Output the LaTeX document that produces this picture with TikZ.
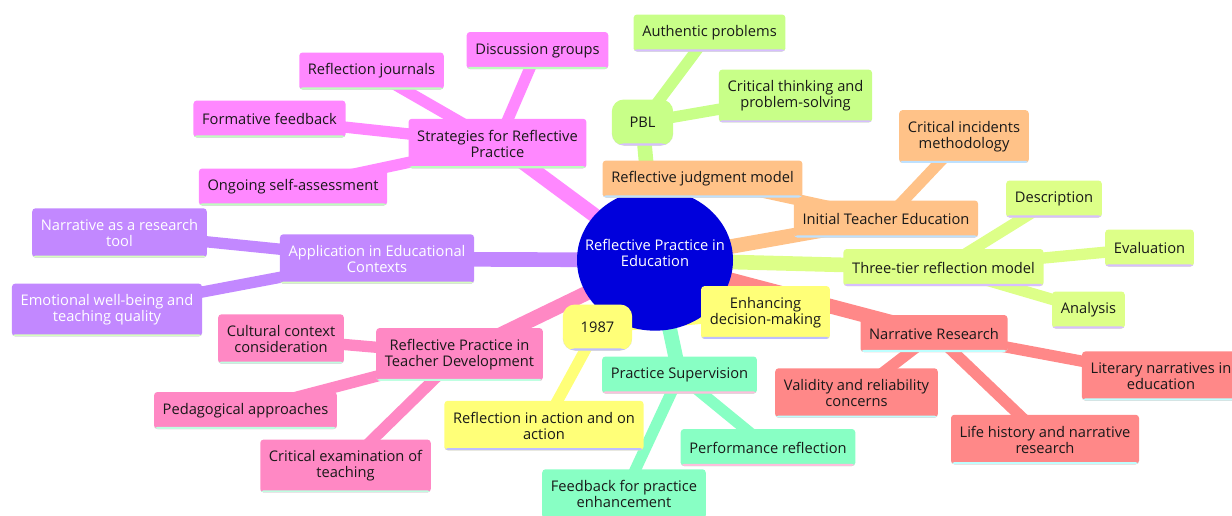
\documentclass[tikz,border=0pt]{standalone}
\usepackage{fontspec}
\setmainfont{Open Sans}
\usetikzlibrary{backgrounds,shapes.geometric}

\definecolor{rootblue}{RGB}{0,0,220}
\definecolor{textdark}{RGB}{25,25,25}
\definecolor{magsec}{RGB}{255,136,255}
\definecolor{purpsec}{RGB}{194,136,255}
\definecolor{pinksec}{RGB}{255,136,196}
\definecolor{yelsec}{RGB}{255,255,120}
\definecolor{tealsec}{RGB}{136,255,196}
\definecolor{redsec}{RGB}{255,136,136}
\definecolor{orgsec}{RGB}{255,194,136}
\definecolor{grnsec}{RGB}{200,255,136}
\definecolor{limesec}{RGB}{221,255,136}
\definecolor{magline}{RGB}{190,255,190}
\definecolor{purpline}{RGB}{215,255,190}
\definecolor{pinkline}{RGB}{190,255,225}
\definecolor{yelline}{RGB}{190,190,255}
\definecolor{tealline}{RGB}{255,190,220}
\definecolor{redline}{RGB}{190,255,255}
\definecolor{orgline}{RGB}{190,225,255}
\definecolor{grnline}{RGB}{215,190,255}

\tikzset{idea/.style 2 args={rectangle,rounded corners=2.5pt,fill=#1,text=textdark,
            inner xsep=6.5pt,inner ysep=8.3pt,minimum height=27.75pt,align=center,
            path picture={\fill[#2] ([yshift=1.6pt]path picture bounding box.south west)
              rectangle (path picture bounding box.south east);}},
         root node/.style={ellipse,fill=rootblue,inner sep=0pt,
            minimum width=117pt,minimum height=106pt},
         root text/.style={text=white,align=center,yshift=5.5pt},
         mag node/.style={idea={magsec}{magline}},
         purp node/.style={idea={purpsec}{purpline},text=white},
         pink node/.style={idea={pinksec}{pinkline}},
         yel node/.style={idea={yelsec}{yelline}},
         teal node/.style={idea={tealsec}{tealline}},
         red node/.style={idea={redsec}{redline}},
         org node/.style={idea={orgsec}{orgline}},
         grn node/.style={idea={grnsec}{grnline}},
         lime node/.style={idea={limesec}{grnline}},
         bubble/.style={rounded corners=9pt,minimum height=34.5pt},
         root edge/.style={line width=11pt},
         sub edge/.style={line width=8.5pt},
            }

\begin{document}
\begin{tikzpicture}[x=0.75pt,y=-0.75pt,font=\fontsize{11}{12}\selectfont]
    \useasboundingbox (0,0) rectangle (1232,515);
    \clip (0,0) rectangle (1232,515);

    \node[root node,label={[root text]center:Reflective Practice in\\Education}] (root) at (655,260) {};

    % strategies
    \node[mag node] (strat) at (497.5,143.5) {Strategies for Reflective\\Practice};
    \node[mag node] (discuss) at (537.5,50.5) {Discussion groups};
    \node[mag node] (journal) at (371.5,71) {Reflection journals};
    \node[mag node] (formative) at (269.5,119) {Formative feedback};
    \node[mag node] (ongoing) at (293,187) {Ongoing self-assessment};

    % application
    \node[purp node] (apply) at (377,259) {Application in Educational\\Contexts};
    \node[purp node] (narrtool) at (119.5,233) {Narrative as a research\\tool};
    \node[purp node] (wellbeing) at (107,310) {Emotional well-being and\\teaching quality};

    % teacher development
    \node[pink node] (teacher) at (459.5,354.5) {Reflective Practice in\\Teacher Development};
    \node[pink node] (culture) at (281,339) {Cultural context\\consideration};
    \node[pink node] (pedagogy) at (245.5,410.5) {Pedagogical approaches};
    \node[pink node] (critexam) at (345.5,466) {Critical examination of\\teaching};

    % 1987
    \node[yel node,bubble,minimum width=52pt] (year) at (597.5,327.5) {1987};
    \node[yel node] (inaction) at (544,425.5) {Reflection in action and on\\action};
    \node[yel node] (decision) at (765.5,312.5) {Enhancing\\decision-making};

    % supervision
    \node[teal node] (superv) at (679.5,375) {Practice Supervision};
    \node[teal node] (perform) at (768,447.5) {Performance reflection};
    \node[teal node] (feedback) at (624,494) {Feedback for practice\\enhancement};

    % narrative research
    \node[red node] (narr) at (934,333.5) {Narrative Research};
    \node[red node] (validity) at (856.5,393) {Validity and reliability\\concerns};
    \node[red node] (lifehist) at (1045,439.5) {Life history and narrative\\research};
    \node[red node] (literary) at (1161,376) {Literary narratives in\\education};

    % initial teacher education
    \node[org node] (judgment) at (702.5,179) {Reflective judgment model};
    \node[org node] (initial) at (886,219) {Initial Teacher Education};
    \node[org node] (incident) at (964,136.5) {Critical incidents\\methodology};

    % PBL
    \node[grn node,bubble,minimum width=46pt] (pbl) at (642.5,122.5) {PBL};
    \node[grn node] (authentic) at (709.5,33) {Authentic problems};
    \node[grn node] (critthink) at (795.5,96) {Critical thinking and\\problem-solving};

    % three-tier
    \node[lime node] (tier) at (943.5,267.5) {Three-tier reflection model};
    \node[lime node] (descr) at (1054,199) {Description};
    \node[lime node] (evaluate) at (1149.5,248) {Evaluation};
    \node[lime node] (analysis) at (1088.5,310) {Analysis};

    \begin{scope}[on background layer]
    \path[root edge]
    (root.center) edge[draw=magsec] (strat.center)
    (root.center) edge[draw=purpsec] (apply.center)
    (root.center) edge[draw=pinksec] (teacher.center)
    (root.center) edge[draw=yelsec] (year.center)
    (root.center) edge[draw=tealsec] (superv.center)
    (root.center) edge[draw=redsec] (narr.center)
    (root.center) edge[draw=orgsec] (initial.center)
    (root.center) edge[draw=grnsec] (pbl.center)
    (root.center) edge[draw=limesec] (tier.center);

    \path[sub edge]
    (strat.center) edge[draw=magsec] (discuss.center)
    (strat.center) edge[draw=magsec] (journal.center)
    (strat.center) edge[draw=magsec] (formative.center)
    (strat.center) edge[draw=magsec] (ongoing.center)
    (apply.center) edge[draw=purpsec] (narrtool.center)
    (apply.center) edge[draw=purpsec] (wellbeing.center)
    (teacher.center) edge[draw=pinksec] (culture.center)
    (teacher.center) edge[draw=pinksec] (pedagogy.center)
    (teacher.center) edge[draw=pinksec] (critexam.center)
    (year.center) edge[draw=yelsec] (inaction.center)
    (year.center) edge[draw=yelsec] (decision.center)
    (superv.center) edge[draw=tealsec] (perform.center)
    (superv.center) edge[draw=tealsec] (feedback.center)
    (narr.center) edge[draw=redsec] (validity.center)
    (narr.center) edge[draw=redsec] (lifehist.center)
    (narr.center) edge[draw=redsec] (literary.center)
    (initial.center) edge[draw=orgsec] (judgment.center)
    (initial.center) edge[draw=orgsec] (incident.center)
    (pbl.center) edge[draw=grnsec] (authentic.center)
    (pbl.center) edge[draw=grnsec] (critthink.center)
    (tier.center) edge[draw=limesec] (descr.center)
    (tier.center) edge[draw=limesec] (evaluate.center)
    (tier.center) edge[draw=limesec] (analysis.center);
    \end{scope}

\end{tikzpicture}
\end{document}
